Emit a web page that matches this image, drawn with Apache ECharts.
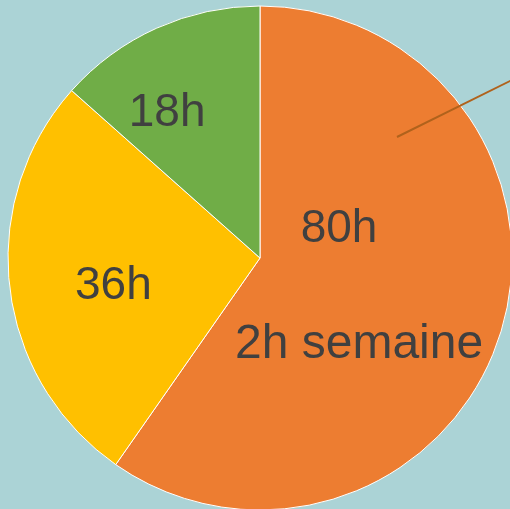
<!DOCTYPE html>
<html>
<head>
<meta charset="utf-8">
<script src="https://cdn.jsdelivr.net/npm/echarts@6/dist/echarts.min.js"></script>
<style>
  html, body { margin: 0; padding: 0; background: #abd3d6; }
  #main { width: 510px; height: 509px; }
</style>
</head>
<body>
<div id="main"></div>
<script>
// slice values (hours), clockwise from 12 o'clock
var labels = ['80h', '36h', '18h'];
var values = [80, 36, 18];
var notes = ['2h semaine', '', ''];
var colors = ['#ED7D31', '#FFC000', '#70AD47'];

// manual label nudges (padding), like the hand placed text of the original
var pads = [[0, 48, 19, 0], [27, 37, 0, 0], [0, 80, 54, 0]];

var myChart = echarts.init(document.getElementById('main'));

var data = values.map(function (v, i) {
    return {
        value: v,
        name: labels[i],
        itemStyle: { color: colors[i] },
        label: { padding: pads[i] }
    };
});

var option = {
    backgroundColor: '#abd3d6',
    animation: false,
    series: [{
        type: 'pie',
        center: [260, 258],
        radius: [0, 252],
        startAngle: 90,
        clockwise: true,
        avoidLabelOverlap: false,
        silent: true,
        itemStyle: {
            borderColor: '#ffffff',
            borderWidth: 1
        },
        label: {
            show: true,
            position: 'inside',
            color: '#404040',
            fontFamily: 'Liberation Sans, Arial, sans-serif',
            fontSize: 46,
            formatter: function (p) {
                var note = notes[p.dataIndex];
                if (note) {
                    return '{a|' + p.name + '}\n{b|' + note + '}';
                }
                return p.name;
            },
            rich: {
                a: {
                    color: '#404040',
                    fontFamily: 'Liberation Sans, Arial, sans-serif',
                    fontSize: 46,
                    lineHeight: 115,
                    padding: [0, 40, 0, 0]
                },
                b: {
                    color: '#404040',
                    fontFamily: 'Liberation Sans, Arial, sans-serif',
                    fontSize: 48,
                    lineHeight: 115
                }
            }
        },
        labelLine: { show: false },
        data: data
    }],
    graphic: [{
        type: 'line',
        silent: true,
        z: 100,
        shape: { x1: 397, y1: 137, x2: 512, y2: 80 },
        style: { stroke: '#B0621C', lineWidth: 2 }
    }]
};

myChart.setOption(option);
</script>
</body>
</html>
